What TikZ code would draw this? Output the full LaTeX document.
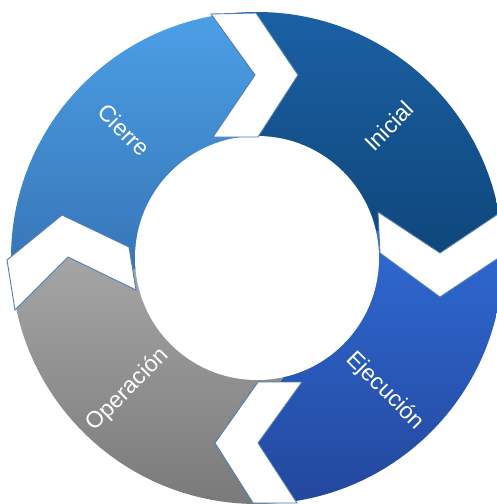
\documentclass[tikz,border=0pt]{standalone}
\usepackage{fontspec}
\setmainfont{Liberation Sans}
\definecolor{chev}{HTML}{4F7DB3}
\definecolor{cieT}{HTML}{4CA0E7}
\definecolor{cieB}{HTML}{3470B1}
\definecolor{iniT}{HTML}{1B60A5}
\definecolor{iniB}{HTML}{0C4272}
\definecolor{ejeT}{HTML}{2F6AD4}
\definecolor{ejeB}{HTML}{23479C}
\definecolor{opeT}{HTML}{A8A8A8}
\definecolor{opeB}{HTML}{7A7A7A}
\tikzset{
  lbl/.style={text=white, font=\fontsize{23}{23}\selectfont, inner sep=0pt},
  chevron/.style={fill=white, draw=chev, line width=0.9pt, line join=miter}
}
\begin{document}
\begin{tikzpicture}[x=1pt,y=-1pt]
\useasboundingbox (0,0) rectangle (496,504);
\coordinate (C) at (257,258);
% chevron midlines (colour boundaries)
\coordinate (TOx) at (190,-48);  \coordinate (TO) at (233.5,13.5); \coordinate (TM) at (276.5,75); \coordinate (TI) at (235.5,137); \coordinate (TIx) at (195,199);
\coordinate (ROx) at (564,193);  \coordinate (RO) at (502,234);   \coordinate (RM) at (440,275);  \coordinate (RI) at (379,232.5); \coordinate (RIx) at (318,190);
\coordinate (BOx) at (313.5,563);\coordinate (BO) at (275,503);   \coordinate (BM) at (236.5,443);\coordinate (BI) at (280,382);   \coordinate (BIx) at (323.5,321);
\coordinate (LOx) at (-43,332);  \coordinate (LO) at (11,284);    \coordinate (LM) at (65,236);   \coordinate (LI) at (132.5,268.5);\coordinate (LIx) at (200,301);
\begin{scope}
  \clip (C) circle[radius=246];
  % Cierre
  \begin{scope}
    \clip (C) -- (LIx) -- (LI) -- (LM) -- (LO) -- (LOx) -- (-60,-60) -- (TOx) -- (TO) -- (TM) -- (TI) -- (TIx) -- cycle;
    \shade[top color=cieT, bottom color=cieB] (0,10) rectangle (300,300);
  \end{scope}
  % Inicial
  \begin{scope}
    \clip (C) -- (TIx) -- (TI) -- (TM) -- (TO) -- (TOx) -- (560,-60) -- (ROx) -- (RO) -- (RM) -- (RI) -- (RIx) -- cycle;
    \shade[top color=iniT, bottom color=iniB] (220,10) rectangle (504,300);
  \end{scope}
  % Ejecucion
  \begin{scope}
    \clip (C) -- (RIx) -- (RI) -- (RM) -- (RO) -- (ROx) -- (570,570) -- (BOx) -- (BO) -- (BM) -- (BI) -- (BIx) -- cycle;
    \shade[top color=ejeT, bottom color=ejeB] (220,230) rectangle (504,504);
  \end{scope}
  % Operacion
  \begin{scope}
    \clip (C) -- (BIx) -- (BI) -- (BM) -- (BO) -- (BOx) -- (-60,570) -- (LOx) -- (LO) -- (LM) -- (LI) -- (LIx) -- cycle;
    \shade[top color=opeT, bottom color=opeB] (0,240) rectangle (300,504);
  \end{scope}
\end{scope}
\fill[white] (C) circle[radius=122];
% white chevrons
\path[chevron] (211,14) -- (256,13) -- (298,75) -- (258,137) -- (213,137) -- (255,75) -- cycle;
\path[chevron] (378,212) -- (440,253) -- (501,212) -- (503,255) -- (440,297) -- (380,253) -- cycle;
\path[chevron] (258,382) -- (302,382) -- (258,443) -- (297,503) -- (253,503) -- (215,443) -- cycle;
\path[chevron] (7,260) -- (62,215) -- (129,247) -- (136,290) -- (68,257) -- (15,310) -- cycle;
% labels
\node[lbl, rotate=-45] (cierre) at (124,130) {Cierre};
\node[lbl, rotate=45] (inicial) at (389,126) {Inicial};
\node[lbl, rotate=-45] (ejecucion) at (385,391) {Ejecución};
\node[lbl, rotate=45] (operacion) at (128,390) {Operación};
\end{tikzpicture}
\end{document}
